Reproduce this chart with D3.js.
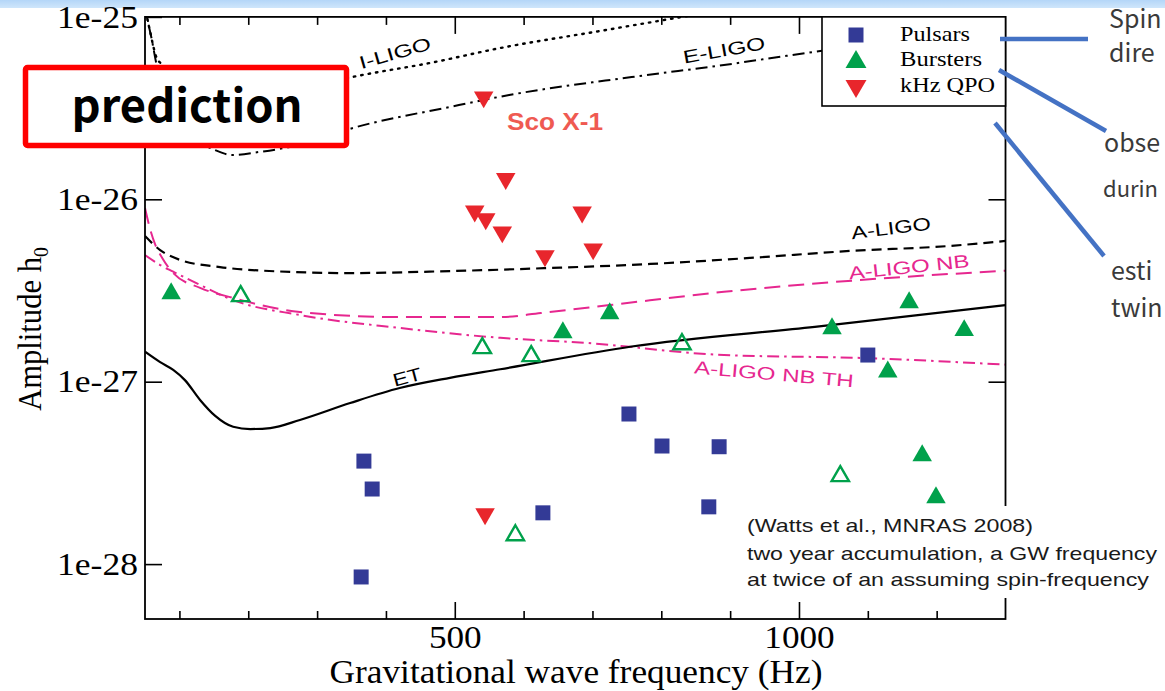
<!DOCTYPE html>
<html><head><meta charset="utf-8">
<script src="https://cdn.jsdelivr.net/npm/d3@7"></script>
<style>html,body{margin:0;padding:0;background:#fff;overflow:hidden}</style>
</head><body>
<svg id="c" width="1165" height="691"></svg>
<script>
// ---------- data ----------
const xDomain = [50, 1300];
const yDomain = [5e-29, 1e-25];
const xMajorTicks = [500, 1000];
const xMinorTicks = [100, 200, 300, 400, 600, 700, 800, 900, 1100, 1200];
const yTicks = [1e-25, 1e-26, 1e-27, 1e-28];
const yTickLabels = ["1e-25", "1e-26", "1e-27", "1e-28"];

// sensitivity curves [frequency Hz, amplitude]
const iLIGO = [[50,1.3e-25],[53,1e-25],[57,8.48e-26],[62,6.92e-26],[67,5.95e-26],[76,5.45e-26],[94,4.51e-26],[115,3.98e-26],[137,3.64e-26],[188,3.59e-26],[246,3.88e-26],[304,4.29e-26],[358,4.74e-26],[464,5.59e-26],[566,6.75e-26],[711,8.37e-26],[843,1.02e-25],[1001,1.3e-25]];
const eLIGO = [[50,1.2e-25],[54,9.6e-26],[60,7.47e-26],[66,5.66e-26],[79,3.73e-26],[101,2.65e-26],[130,2.06e-26],[152,1.86e-26],[176,1.75e-26],[217,1.82e-26],[275,1.99e-26],[352,2.46e-26],[493,3.21e-26],[579,3.73e-26],[757,4.68e-26],[891,5.45e-26],[1023,6.44e-26],[1299,8.69e-26]];
const aLIGO = [[50,6.29e-27],[72,5.27e-27],[101,4.65e-27],[159,4.25e-27],[246,4.02e-27],[348,3.94e-27],[493,4.04e-27],[638,4.2e-27],[784,4.42e-27],[929,4.77e-27],[1074,5.21e-27],[1219,5.55e-27],[1300,5.91e-27]];
const aLIGONB = [[50,8.96e-27],[57,6.96e-27],[65,5.62e-27],[75,4.77e-27],[91,3.94e-27],[130,3.27e-27],[178,2.88e-27],[275,2.41e-27],[420,2.26e-27],[566,2.26e-27],[625,2.38e-27],[725,2.63e-27],[891,3.11e-27],[1089,3.61e-27],[1300,4.06e-27]];
const aLIGONBTH = [[50,4.95e-27],[72,4.36e-27],[91,4.01e-27],[130,3.39e-27],[178,2.8e-27],[275,2.32e-27],[420,1.97e-27],[566,1.74e-27],[692,1.63e-27],[891,1.4e-27],[1089,1.35e-27],[1300,1.24e-27]];
const etCurve = [[50,1.46e-27],[72,1.28e-27],[91,1.16e-27],[108,1.02e-27],[130,7.94e-28],[152,6.49e-28],[178,5.66e-28],[203,5.5e-28],[232,5.57e-28],[275,6.17e-28],[348,7.64e-28],[420,9.23e-28],[493,1.05e-27],[566,1.17e-27],[757,1.56e-27],[1023,2.0e-27],[1300,2.63e-27]];

// sources [frequency Hz, amplitude]
const pulsars = [[368,3.67e-28],[380,2.58e-28],[364,8.5e-29],[628,1.91e-28],[753,6.65e-28],[801,4.44e-28],[884,4.4e-28],[869,2.06e-28],[1100,1.4e-27]];
const burstersFilled = [[88,3.14e-27],[657,1.92e-27],[725,2.44e-27],[1048,2.02e-27],[1160,2.8e-27],[1129,1.17e-27],[1240,1.97e-27],[1179,4.06e-28],[1199,2.39e-28]];
const burstersOpen = [[189,3.03e-27],[540,1.57e-27],[611,1.42e-27],[830,1.65e-27],[1060,3.12e-28],[588,1.48e-28]];
const kHzQPO = [[542,3.59e-26],[574,1.28e-26],[529,8.5e-27],[545,7.7e-27],[569,6.53e-27],[685,8.4e-27],[631,4.83e-27],[701,5.27e-27],[544,1.86e-28]];

const legendNames = ["Pulsars", "Bursters", "kHz QPO"];
const noteLines = ["(Watts et al., MNRAS 2008)", "two year accumulation, a GW frequency", "at twice of an assuming spin-frequency"];
const sideTexts = ["Spin", "dire", "obse", "durin", "esti", "twin"];

// ---------- drawing ----------
const svg = d3.select('#c');
const navy = '#333a96', green = '#00a14b', red = '#e8262c', magenta = '#e6278f';
const serif = '"Liberation Serif", "Times New Roman", serif';
const sans = '"Liberation Sans", Arial, sans-serif';
const jp = '"Noto Sans CJK JP", "Noto Sans", sans-serif';

// slide band
const grad = svg.append('defs').append('linearGradient').attr('id','band').attr('x1',0).attr('y1',0).attr('x2',0).attr('y2',1);
grad.append('stop').attr('offset','0%').attr('stop-color','#b4d6f8');
grad.append('stop').attr('offset','100%').attr('stop-color','#cfe6fb');
svg.append('rect').attr('x',0).attr('y',0).attr('width',1165).attr('height',8).attr('fill','url(#band)');

const x = d3.scaleLinear().domain(xDomain).range([145, 1005.5]);
const y = d3.scaleLog().domain(yDomain).range([619, 16.9]);
const L = x.range()[0], R = x.range()[1], T = y.range()[1], B = y.range()[0];

svg.append('clipPath').attr('id','plotclip').append('rect')
  .attr('x',L).attr('y',T).attr('width',R-L).attr('height',B-T);

function styleAxis(g){
  g.select('.domain').remove();
  g.selectAll('.tick line').attr('stroke','#000').attr('stroke-width',1.6);
  g.selectAll('.tick text').attr('font-family',serif).attr('font-size',32).attr('fill','#000');
}
// bottom
svg.append('g').attr('transform',`translate(0,${B})`)
  .call(d3.axisBottom(x).tickValues(xMinorTicks).tickSize(-8).tickFormat(''))
  .call(styleAxis);
const gxb = svg.append('g').attr('transform',`translate(0,${B})`)
  .call(d3.axisBottom(x).tickValues(xMajorTicks).tickSize(-17).tickPadding(6).tickFormat(d3.format('d')))
  .call(styleAxis);
gxb.selectAll('.tick text').attr('textLength', d => String(d).length*17.6).attr('lengthAdjust','spacingAndGlyphs');
// top
svg.append('g').attr('transform',`translate(0,${T})`)
  .call(d3.axisTop(x).tickValues(xMinorTicks).tickSize(-8).tickFormat('')).call(styleAxis);
svg.append('g').attr('transform',`translate(0,${T})`)
  .call(d3.axisTop(x).tickValues(xMajorTicks).tickSize(-17).tickFormat('')).call(styleAxis);
// left
const gyl = svg.append('g').attr('transform',`translate(${L},0)`)
  .call(d3.axisLeft(y).tickValues(yTicks).tickSize(-17).tickPadding(7).tickFormat((d,i)=>yTickLabels[i]))
  .call(styleAxis);
gyl.selectAll('.tick text').attr('textLength',81).attr('lengthAdjust','spacingAndGlyphs');
// right
svg.append('g').attr('transform',`translate(${R},0)`)
  .call(d3.axisRight(y).tickValues(yTicks).tickSize(-17).tickFormat('')).call(styleAxis);

// curves
const line = d3.line().x(d=>x(d[0])).y(d=>y(d[1])).curve(d3.curveMonotoneX);
const curves = svg.append('g').attr('clip-path','url(#plotclip)');
const curveDefs = [
  {data:iLIGO, color:'#000', dash:'1.5,6', w:2.4, cap:'round'},
  {data:eLIGO, color:'#000', dash:'12,5,2.5,5', w:2},
  {data:aLIGO, color:'#000', dash:'10,6', w:2.2},
  {data:aLIGONB, color:magenta, dash:'16,8', w:2},
  {data:aLIGONBTH, color:magenta, dash:'12,5,2.5,5', w:2},
  {data:etCurve, color:'#000', dash:null, w:2.2}
];
curveDefs.forEach(c => {
  curves.append('path').datum(c.data).attr('d',line).attr('fill','none')
    .attr('stroke',c.color).attr('stroke-width',c.w)
    .attr('stroke-dasharray',c.dash).attr('stroke-linecap',c.cap||'butt');
});

// frame
svg.append('rect').attr('x',L).attr('y',T).attr('width',R-L).attr('height',B-T)
  .attr('fill','none').attr('stroke','#000').attr('stroke-width',1.8);

// curve labels
function label(txt, cx, cy, rot, len, color, size){
  svg.append('text').attr('transform',`translate(${cx},${cy}) rotate(${rot})`)
    .attr('text-anchor','middle').attr('dy','0.35em')
    .attr('font-family',sans).attr('font-size',size||18).attr('fill',color||'#000')
    .attr('textLength',len).attr('lengthAdjust','spacingAndGlyphs').text(txt);
}
label('I-LIGO',395,53,-16,74);
label('E-LIGO',724,50,-10,83);
label('A-LIGO',891,228,-7,80);
label('A-LIGO NB',909,267,-6,121,magenta);
label('A-LIGO NB TH',774,374,5,160,magenta);
label('ET',407,377,-15,29);

// markers
const sq = d3.symbol().type(d3.symbolSquare).size(225)();
const tri = d3.symbol().type(d3.symbolTriangle).size(165)();
const mk = svg.append('g');
mk.selectAll('.ps').data(pulsars).join('path').attr('d',sq)
  .attr('transform',d=>`translate(${x(d[0])},${y(d[1])})`).attr('fill',navy);
mk.selectAll('.bf').data(burstersFilled).join('path').attr('d',tri)
  .attr('transform',d=>`translate(${x(d[0])},${y(d[1])+2.5})`).attr('fill',green);
mk.selectAll('.bo').data(burstersOpen).join('path').attr('d',d3.symbol().type(d3.symbolTriangle).size(130)())
  .attr('transform',d=>`translate(${x(d[0])},${y(d[1])+2.2})`).attr('fill','none').attr('stroke',green).attr('stroke-width',2.4);
mk.selectAll('.qp').data(kHzQPO).join('path').attr('d',tri)
  .attr('transform',d=>`translate(${x(d[0])},${y(d[1])-1}) rotate(180)`).attr('fill',red);

// Sco X-1
svg.append('text').attr('x',555).attr('y',130).attr('text-anchor','middle')
  .attr('font-family',sans).attr('font-weight','bold').attr('font-size',24).attr('fill','#ef5a52')
  .attr('textLength',96).attr('lengthAdjust','spacingAndGlyphs').text('Sco X-1');

// legend
const lg = svg.append('g');
lg.append('rect').attr('x',822).attr('y',T).attr('width',R-822).attr('height',106-T)
  .attr('fill','#fff').attr('stroke','#000').attr('stroke-width',1.6);
const legendSym = [
  {p:sq, c:navy, r:0},
  {p:d3.symbol().type(d3.symbolTriangle).size(190)(), c:green, r:0},
  {p:d3.symbol().type(d3.symbolTriangle).size(190)(), c:red, r:180}
];
const legLen = [70, 82, 95];
legendNames.forEach((n,i) => {
  const cy = [35, 62, 86][i];
  lg.append('path').attr('d',legendSym[i].p).attr('fill',legendSym[i].c)
    .attr('transform',`translate(856,${cy}) rotate(${legendSym[i].r})`);
  lg.append('text').attr('x',900).attr('y',[41,66,92][i]).attr('font-family',serif).attr('font-size',21)
    .attr('textLength',legLen[i]).attr('lengthAdjust','spacingAndGlyphs').text(n);
});

// axis titles
svg.append('text').attr('transform','translate(576,683) scale(1.07,1)').attr('text-anchor','middle')
  .attr('font-family',serif).attr('font-size',33).text('Gravitational wave frequency (Hz)');
const yt = svg.append('text').attr('transform','translate(41,329) rotate(-90) scale(0.9,1)').attr('text-anchor','middle')
  .attr('font-family',serif).attr('font-size',34);
yt.append('tspan').text('Amplitude h');
yt.append('tspan').attr('font-size',22).attr('dy',7).text('0');

// note box
svg.append('rect').attr('x',740).attr('y',506).attr('width',425).attr('height',92).attr('fill','#fff');
const noteLen = [286, 410, 402];
noteLines.forEach((t,i) => {
  svg.append('text').attr('x',747).attr('y',[532,560,586][i]).attr('font-family',sans).attr('font-size',19)
    .attr('fill','#1a1a1a').attr('textLength',noteLen[i]).attr('lengthAdjust','spacingAndGlyphs').text(t);
});

// prediction box
svg.append('rect').attr('x',25.5).attr('y',67.5).attr('width',321).attr('height',78).attr('rx',2)
  .attr('fill','#fff').attr('stroke','#ff0000').attr('stroke-width',5.5);
svg.append('text').attr('x',187).attr('y',122).attr('text-anchor','middle')
  .attr('font-family',jp).attr('font-weight','bold').attr('font-size',45)
  .attr('textLength',231).attr('lengthAdjust','spacingAndGlyphs').text('prediction');

// slide callouts
const blue = '#4472c4';
[[1000,39,1088,39],[999,70,1106,131],[995,123,1104,256]].forEach(l => {
  svg.append('line').attr('x1',l[0]).attr('y1',l[1]).attr('x2',l[2]).attr('y2',l[3])
    .attr('stroke',blue).attr('stroke-width',4.5);
});
const sidePos = [[1109,28],[1109,62],[1104,152],[1103,197],[1111,280],[1111,317]];
const sideSize = [25, 25, 25, 22, 25, 25];
sideTexts.forEach((t,i) => {
  svg.append('text').attr('x',sidePos[i][0]).attr('y',sidePos[i][1])
    .attr('font-family',jp).attr('font-size',sideSize[i]).attr('fill','#3a3a3a').text(t);
});
</script>
</body></html>
